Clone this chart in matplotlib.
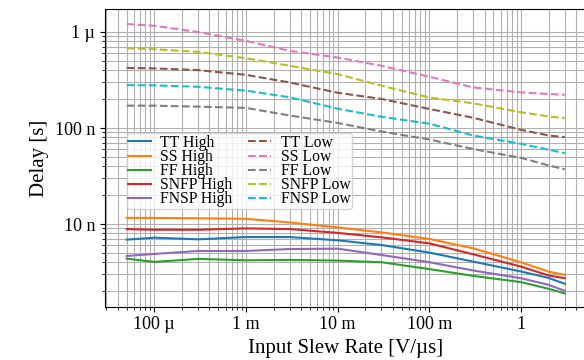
import matplotlib
matplotlib.use("Agg")
import matplotlib.pyplot as plt
from matplotlib.ticker import EngFormatter

plt.rcParams['font.family'] = ['Liberation Serif', 'DejaVu Serif']
plt.rcParams['mathtext.fontset'] = 'stix'

# input slew rate sweep points [V/us]
slew = [50e-6, 100e-6, 300e-6, 1e-3, 3e-3, 10e-3, 30e-3, 100e-3, 300e-3, 1.0, 2.0, 3.0]

# delays for the high-going transition [s]
tt_high   = [6.89e-9, 7.22e-9, 6.94e-9, 7.33e-9, 7.33e-9, 6.78e-9, 6.06e-9, 5.05e-9, 4.07e-9, 3.21e-9, 2.75e-9, 2.39e-9]
ss_high   = [11.6e-9, 11.6e-9, 11.5e-9, 11.35e-9, 10.4e-9, 9.23e-9, 8.2e-9, 7.0e-9, 5.6e-9, 4.0e-9, 3.2e-9, 2.96e-9]
ff_high   = [4.37e-9, 4.04e-9, 4.34e-9, 4.2e-9, 4.24e-9, 4.17e-9, 4.01e-9, 3.4e-9, 2.89e-9, 2.49e-9, 2.12e-9, 1.9e-9]
snfp_high = [8.87e-9, 8.73e-9, 8.73e-9, 9.02e-9, 8.87e-9, 8.1e-9, 7.28e-9, 6.3e-9, 4.85e-9, 3.61e-9, 2.92e-9, 2.73e-9]
fnsp_high = [4.66e-9, 4.89e-9, 5.25e-9, 5.25e-9, 5.5e-9, 5.55e-9, 4.77e-9, 4.01e-9, 3.29e-9, 2.73e-9, 2.33e-9, 2.02e-9]

# delays for the low-going transition [s]
tt_low   = [423e-9, 418e-9, 401e-9, 358e-9, 298e-9, 233e-9, 201e-9, 158e-9, 128e-9, 95.8e-9, 83.6e-9, 80.4e-9]
ss_low   = [1.21e-6, 1.16e-6, 1.0e-6, 807e-9, 636e-9, 542e-9, 445e-9, 342e-9, 265e-9, 235e-9, 226e-9, 222e-9]
ff_low   = [171e-9, 171e-9, 167e-9, 162e-9, 135e-9, 113e-9, 92e-9, 76e-9, 60.5e-9, 48.9e-9, 40.8e-9, 37.2e-9]
snfp_low = [678e-9, 661e-9, 621e-9, 533e-9, 445e-9, 364e-9, 276e-9, 208e-9, 181e-9, 146e-9, 132e-9, 127e-9]
fnsp_low = [280e-9, 278e-9, 269e-9, 245e-9, 209e-9, 159e-9, 131e-9, 111e-9, 83.6e-9, 68.5e-9, 59.4e-9, 54.8e-9]

high_series = [("TT High", tt_high), ("SS High", ss_high), ("FF High", ff_high),
               ("SNFP High", snfp_high), ("FNSP High", fnsp_high)]
low_series = [("TT Low", tt_low), ("SS Low", ss_low), ("FF Low", ff_low),
              ("SNFP Low", snfp_low), ("FNSP Low", fnsp_low)]

fig = plt.figure(figsize=(5.84, 3.6), dpi=100)
ax = fig.add_axes([0.1798, 0.148, 0.8248, 0.826])

for name, vals in high_series:
    ax.loglog(slew, vals, '-', lw=1.5, label=name)
for name, vals in low_series:
    ax.loglog(slew, vals, '--', lw=1.5, label=name)

ax.set_xlim(2.9e-5, 5.2)
ax.set_ylim(1.38e-9, 1.72e-6)
ax.grid(True, which='both', color='#b0b0b0', lw=0.8)
ax.xaxis.set_major_formatter(EngFormatter())
ax.yaxis.set_major_formatter(EngFormatter())
ax.tick_params(labelsize=13)
ax.set_xlabel("Input Slew Rate [V/µs]", fontsize=15)
ax.set_ylabel("Delay [s]", fontsize=15)

ax.legend(ncol=2, loc='upper left', bbox_to_anchor=(0.045, 0.583), borderaxespad=0,
          fontsize=11.3, handlelength=1.45, labelspacing=-0.12, columnspacing=1.0,
          handletextpad=0.6, borderpad=0.1)

fig.savefig("out.png", dpi=100)
